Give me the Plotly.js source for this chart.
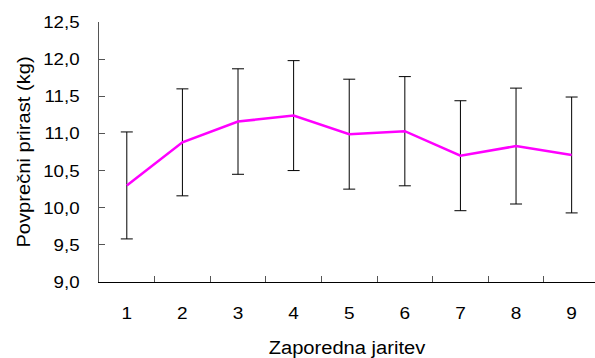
<!DOCTYPE html>
<html><head><meta charset="utf-8">
<script src="https://cdn.plot.ly/plotly-3.0.1.min.js"></script>
<style>body{margin:0;padding:0;background:#fff}#c{width:595px;height:358px}</style>
</head><body><div id="c"></div>
<script>
const categories = [1, 2, 3, 4, 5, 6, 7, 8, 9];
const meanGain = [10.30, 10.88, 11.16, 11.24, 10.99, 11.03, 10.70, 10.83, 10.71];
const errorVals = [0.72, 0.72, 0.71, 0.74, 0.74, 0.735, 0.74, 0.78, 0.78];
const tickLabels = ['1','2','3','4','5','6','7','8','9'];
const dividerTicks = [1.5, 2.5, 3.5, 4.5, 5.5, 6.5, 7.5, 8.5];
const yTicks = [9, 9.5, 10, 10.5, 11, 11.5, 12, 12.5];

const font = 'Liberation Sans, Arial, sans-serif';
const data = [
  {x: categories, y: meanGain, type: 'scatter', mode: 'lines',
   line: {color: '#ff00ff', width: 2.5},
   error_y: {type: 'data', array: errorVals, visible: true, color: '#000', thickness: 1, width: 6},
   hoverinfo: 'none'},
  {x: [0.6], y: [9], xaxis: 'x2', yaxis: 'y', mode: 'markers', marker: {opacity: 0}, showlegend: false, hoverinfo: 'none'}
];
const xr = [0.5, 9.42];
const layout = {
  width: 595, height: 358,
  margin: {l: 99, r: 0, t: 22, b: 76},
  paper_bgcolor: '#fff', plot_bgcolor: '#fff',
  showlegend: false,
  separators: ', ',
  font: {family: font, size: 17, color: '#000'},
  xaxis: {range: xr, tickmode: 'array', tickvals: categories, ticktext: tickLabels,
    ticks: '', showgrid: false, zeroline: false, showline: true, linecolor: '#000', linewidth: 1,
    ticklabelstandoff: 16, tickfont: {family: font, size: 17, color: '#000'},
    title: {text: 'Zaporedna jaritev', font: {family: font, size: 19, color: '#000'}, standoff: 19}},
  xaxis2: {range: xr, overlaying: 'x', tickmode: 'array', tickvals: dividerTicks,
    ticks: 'inside', ticklen: 6, tickcolor: '#555', showticklabels: false, showgrid: false,
    zeroline: false, showline: false},
  yaxis: {range: [9, 12.5], tickmode: 'array', tickvals: yTicks,
    tickformat: '.1f', ticks: 'inside', ticklen: 6, tickcolor: '#555', showgrid: false, zeroline: false,
    showline: true, linecolor: '#555', linewidth: 1, ticklabelstandoff: 15,
    tickfont: {family: font, size: 17, color: '#000'},
    title: {text: 'Povprečni prirast (kg)', font: {family: font, size: 19, color: '#000'}, standoff: 10}}
};
function stretch(sel, s, anchor) {
  document.querySelectorAll(sel).forEach(t => {
    const b = t.getBBox();
    const cx = anchor === 'end' ? b.x + b.width : b.x + b.width / 2;
    const cy = b.y + b.height / 2;
    const prev = t.getAttribute('transform') || '';
    t.setAttribute('transform', prev + ` translate(${cx},${cy}) scale(${s},1) translate(${-cx},${-cy})`);
  });
}
Plotly.newPlot('c', data, layout, {staticPlot: true, displayModeBar: false}).then(() => {
  stretch('.xtick text', 1.12, 'middle');
  stretch('.ytick text', 1.1, 'end');
  stretch('.g-xtitle text', 1.06, 'middle');
  stretch('.g-ytitle text', 1.06, 'middle');
});
</script></body></html>
